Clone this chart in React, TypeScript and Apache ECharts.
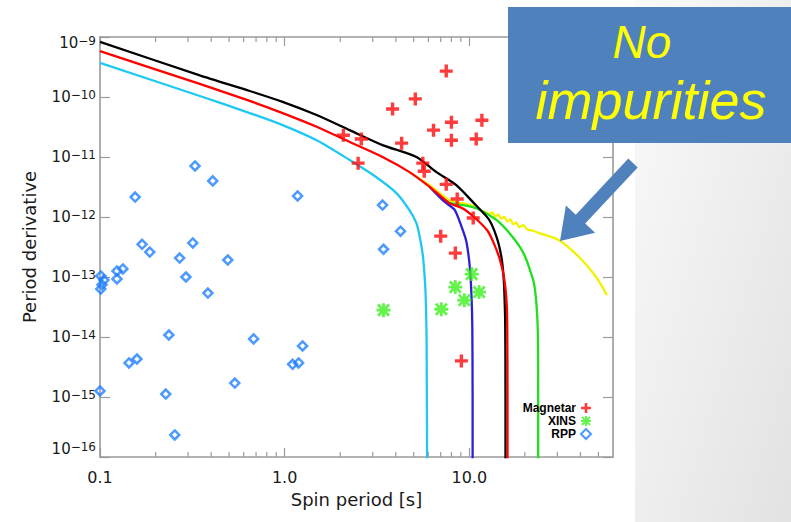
import { useEffect, useRef } from 'react';
import * as echarts from 'echarts';

// Spin-down tracks: [spin period (s), period derivative]
const blackTrack = [
  [0.1, 8.3e-10], [0.347, 2.3e-10], [0.647, 1.26e-10], [0.975, 8.3e-11], [1.49, 5.0e-11],
  [2.25, 2.8e-11], [3.39, 1.58e-11], [5.17, 1.0e-11], [6.64, 5.6e-12], [8.5, 3.4e-12],
  [10.9, 1.55e-12], [12.8, 9.0e-13], [14.1, 4.5e-13], [14.9, 2.2e-13], [15.3, 1.1e-13],
  [15.5, 5.0e-14], [15.65, 1.6e-14], [15.7, 1e-15], [15.7, 1e-17],
];
const redTrack = [
  [0.1, 5.8e-10], [0.347, 1.65e-10], [0.647, 8.6e-11], [0.975, 5.4e-11], [1.49, 3.2e-11],
  [2.25, 1.78e-11], [3.39, 1.0e-11], [4.74, 5.6e-12], [6.08, 3.2e-12], [7.15, 2.1e-12],
  [7.8, 1.7e-12], [9.17, 1.4e-12], [10.6, 1.0e-12], [12.5, 6.0e-13], [13.6, 3.6e-13],
  [14.6, 2.0e-13], [15.4, 1.0e-13], [15.9, 4.0e-14], [16.05, 1.5e-14], [16.1, 1e-15], [16.1, 1e-17],
];
const cyanTrack = [
  [0.1, 3.7e-10], [0.347, 1.04e-10], [0.647, 5.4e-11], [0.975, 3.4e-11], [1.49, 1.9e-11],
  [2.25, 8.9e-12], [3.14, 4.6e-12], [4.03, 2.5e-12], [4.74, 1.3e-12], [5.17, 7.9e-13],
  [5.4, 4.5e-13], [5.6, 2.3e-13], [5.72, 1.1e-13], [5.8, 5.0e-14], [5.87, 9e-15], [5.92, 1e-17],
];
const blueTrack = [
  [6.08, 3.2e-12], [6.9, 2.15e-12], [7.6, 1.65e-12], [8.35, 1.3e-12], [9.06, 7.0e-13],
  [9.64, 3.9e-13], [10.1, 1.3e-13], [10.3, 4.0e-14], [10.38, 1.5e-14], [10.42, 1e-15], [10.42, 1e-17],
];
const greenTrack = [
  [7.15, 2.1e-12], [7.8, 1.72e-12], [8.6, 1.62e-12], [9.64, 1.55e-12], [10.9, 1.4e-12],
  [12.0, 1.2e-12], [13.3, 1.0e-12], [14.5, 8.2e-13], [16.0, 6.0e-13], [17.5, 4.3e-13],
  [19.0, 3.0e-13], [20.3, 2.0e-13], [21.5, 1.2e-13], [22.4, 7.9e-14], [23.1, 3.5e-14],
  [23.5, 1.2e-14], [23.6, 1e-15], [23.6, 1e-17],
];
const yellowTrack = [
  [4.74, 5.6e-12], [6.08, 3.4e-12], [7.15, 2.3e-12], [7.8, 1.9e-12], [8.6, 1.75e-12],
  [9.17, 1.7e-12], [10.9, 1.47e-12], [11.75, 1.25e-12], [12.35, 1.19e-12], [12.82, 1.12e-12],
  [13.31, 1.2e-12], [13.82, 1.02e-12], [14.35, 1.1e-12], [14.89, 9.3e-13], [15.46, 1.0e-12],
  [16.05, 8.4e-13], [16.66, 9.1e-13], [17.29, 7.6e-13], [17.95, 8.1e-13], [18.63, 6.8e-13],
  [19.58, 7.3e-13], [20.58, 6.2e-13], [21.9, 5.96e-13], [23.9, 5.4e-13], [30.6, 4.1e-13],
  [39.3, 2.15e-13], [48.6, 1.0e-13], [55.7, 5.0e-14],
];

// Observed sources
const magnetars = [
  [7.5, 2.7e-10], [5.1, 9.3e-11], [3.84, 6.3e-11], [8.0, 3.8e-11], [11.7, 4.1e-11],
  [6.4, 2.8e-11], [8.0, 1.9e-11], [10.9, 2.0e-11], [4.3, 1.7e-11], [2.08, 2.3e-11],
  [2.6, 2.0e-11], [2.5, 7.9e-12], [5.6, 7.9e-12], [5.7, 5.8e-12], [7.5, 3.5e-12],
  [8.6, 2.0e-12], [10.5, 9.6e-13], [7.0, 4.8e-13], [8.4, 2.5e-13], [9.06, 4.0e-15],
];
const xins = [
  [3.43, 2.8e-14], [7.06, 2.9e-14], [8.4, 6.8e-14], [10.3, 1.12e-13], [9.4, 4.1e-14], [11.3, 5.6e-14],
];
const rpps = [
  [0.327, 7.1e-12], [0.408, 4.0e-12], [0.155, 2.15e-12], [1.175, 2.24e-12], [3.39, 1.58e-12],
  [4.24, 5.8e-13], [3.43, 2.9e-13], [0.169, 3.5e-13], [0.186, 2.6e-13], [0.318, 3.7e-13],
  [0.27, 2.07e-13], [0.492, 1.92e-13], [0.292, 1.0e-13], [0.384, 5.4e-14], [0.1236, 1.26e-13],
  [0.133, 1.36e-13], [0.1236, 9.3e-14], [0.101, 1.04e-13], [0.105, 8.9e-14], [0.1025, 7.4e-14],
  [0.101, 6.3e-14], [0.236, 1.08e-14], [0.679, 9.3e-15], [0.1436, 3.7e-15], [0.1585, 4.3e-15],
  [0.227, 1.12e-15], [0.537, 1.71e-15], [0.254, 2.33e-16], [1.104, 3.5e-15], [1.19, 3.7e-15],
  [1.25, 7.1e-15], [0.1, 1.26e-15],
];

const minorTicks = [0.2, 0.3, 0.4, 0.5, 0.6, 0.7, 0.8, 0.9, 2, 3, 4, 5, 6, 7, 8, 9, 20, 30, 40, 50];

const X_MIN = 0.1;
const X_MAX = 60;
const Y_MIN = 1e-16;
const Y_MAX = 1e-9;

const FONT = 'DejaVu Sans';
const TEXT = '#1a1a1a';
const AXIS = '#9a9a9a';
const CALLOUT = '#4f81bd';

const PLUS = 'path://M8.5,0H14.5V8.5H23V14.5H14.5V23H8.5V14.5H0V8.5H8.5Z';
const ASTERISK =
  'path://M8,0H12V20H8Z M0,8H20V12H0Z M0.59,3.41L3.41,0.59L19.41,16.59L16.59,19.41Z M16.59,0.59L19.41,3.41L3.41,19.41L0.59,16.59Z';

function trackSeries(data: number[][], color: string, z: number) {
  return {
    type: 'line',
    data,
    showSymbol: false,
    smooth: 0.25,
    clip: true,
    silent: true,
    z,
    lineStyle: { color, width: 2.3 },
  };
}

function frameAxis(position: string, isX: boolean) {
  return {
    type: 'log',
    logBase: 10,
    min: isX ? X_MIN : Y_MIN,
    max: isX ? X_MAX : Y_MAX,
    position,
    axisLine: { show: true, lineStyle: { color: AXIS, width: 1.6 } },
    axisTick: { show: true, inside: true, length: isX ? 9 : 10, lineStyle: { color: AXIS, width: 1.2 } },
    splitLine: { show: false },
    minorTick: { show: false },
    axisLabel: { show: false },
  } as any;
}

export default function App() {
  const ref = useRef<HTMLDivElement>(null);

  useEffect(() => {
    const chart = echarts.init(ref.current!, null, { renderer: 'svg' });

    const xMain = frameAxis('bottom', true);
    xMain.axisLabel = {
      show: true,
      margin: 12,
      fontSize: 16,
      color: TEXT,
      fontFamily: FONT,
      showMaxLabel: false,
      formatter: (v: number) => {
        const e = Math.log10(v);
        return Math.abs(e - Math.round(e)) < 1e-6 ? v.toFixed(1) : '';
      },
    };
    xMain.name = 'Spin period [s]';
    xMain.nameLocation = 'middle';
    xMain.nameGap = 33;
    xMain.nameTextStyle = { fontSize: 18, color: TEXT, fontFamily: FONT };

    const yMain = frameAxis('left', false);
    yMain.axisLabel = {
      show: true,
      margin: 4,
      color: TEXT,
      fontFamily: FONT,
      formatter: (v: number) => {
        const e = Math.round(Math.log10(v));
        const body = `{b|10}{s|${e < 0 ? '\u2212' : ''}${Math.abs(e)}}`;
        // the end labels sit just inside the frame
        if (e === -9) return `{g| }\n${body}`;
        if (e === -16) return `${body}\n{h| }`;
        return body;
      },
      rich: {
        b: { fontSize: 15, lineHeight: 16, color: TEXT, fontFamily: FONT },
        s: { fontSize: 12, lineHeight: 12, verticalAlign: 'top', color: TEXT, fontFamily: FONT },
        g: { fontSize: 8, lineHeight: 12 },
        h: { fontSize: 8, lineHeight: 16 },
      },
    };
    yMain.name = 'Period derivative';
    yMain.nameLocation = 'middle';
    yMain.nameRotate = 90;
    yMain.nameGap = 62;
    yMain.nameTextStyle = { fontSize: 18, color: TEXT, fontFamily: FONT };

    const option: any = {
      animation: false,
      backgroundColor: '#ffffff',
      grid: { left: 100, right: 178, top: 37, bottom: 65, containLabel: false, outerBoundsMode: 'none' },
      xAxis: [xMain, frameAxis('top', true)],
      yAxis: [yMain, frameAxis('right', false)],
      legend: {
        data: ['Magnetar', 'XINS', 'RPP'],
        orient: 'vertical',
        align: 'right',
        right: 194,
        top: 397,
        itemWidth: 10,
        itemHeight: 10,
        itemGap: 1,
        selectedMode: false,
        textStyle: { fontSize: 12, fontWeight: 'bold', color: '#000', fontFamily: 'Liberation Sans' },
      },
      series: [
        {
          type: 'custom',
          coordinateSystem: 'cartesian2d',
          silent: true,
          clip: false,
          z: 5,
          data: minorTicks.map((v) => [v, Y_MIN]),
          renderItem: (_params: any, api: any) => {
            const v = api.value(0);
            const b = api.coord([v, Y_MIN]);
            const t = api.coord([v, Y_MAX]);
            const st = { stroke: AXIS, lineWidth: 1.2 };
            return {
              type: 'group',
              children: [
                { type: 'line', shape: { x1: b[0], y1: b[1], x2: b[0], y2: b[1] - 5 }, style: st },
                { type: 'line', shape: { x1: t[0], y1: t[1], x2: t[0], y2: t[1] + 5 }, style: st },
              ],
            };
          },
        },
        trackSeries(yellowTrack, '#f2f200', 2),
        trackSeries(greenTrack, '#1fe01f', 2),
        trackSeries(blueTrack, '#2d1fd8', 2),
        trackSeries(cyanTrack, '#1ec8f2', 2),
        trackSeries(blackTrack, '#000000', 3),
        trackSeries(redTrack, '#ff0000', 3),
        {
          name: 'Magnetar',
          type: 'scatter',
          data: magnetars,
          symbol: PLUS,
          symbolSize: 13,
          z: 10,
          itemStyle: { color: '#ff0a0a' },
        },
        {
          name: 'XINS',
          type: 'scatter',
          data: xins,
          symbol: ASTERISK,
          symbolSize: 14,
          z: 10,
          itemStyle: { color: '#3cf01e' },
        },
        {
          name: 'RPP',
          type: 'scatter',
          data: rpps,
          symbol: 'diamond',
          symbolSize: 9,
          z: 10,
          itemStyle: { color: 'rgba(255,255,255,0)', borderColor: '#1f80ff', borderWidth: 2.5 },
        },
      ],
      graphic: [
        {
          type: 'rect',
          z: 0,
          silent: true,
          shape: { x: 635, y: 0, width: 156, height: 522 },
          style: {
            fill: new echarts.graphic.LinearGradient(0, 0, 1, 1, [
              { offset: 0, color: '#fafafa' },
              { offset: 1, color: '#e2e2e2' },
            ]),
          },
        },
        {
          type: 'rect',
          z: 100,
          silent: true,
          shape: { x: 508, y: 7, width: 283, height: 136 },
          style: { fill: CALLOUT },
        },
        {
          type: 'polygon',
          z: 100,
          silent: true,
          shape: {
            points: [
              [628.3, 158.6], [637.7, 167.4], [585.2, 223.5], [595.1, 232.8],
              [560, 241], [565.9, 205.4], [575.8, 214.7],
            ],
          },
          style: { fill: CALLOUT },
        },
        {
          type: 'text',
          z: 101,
          silent: true,
          x: 642,
          y: 42,
          style: {
            text: 'No',
            fill: '#ffff00',
            font: 'italic 46px "Liberation Sans"',
            align: 'center',
            verticalAlign: 'middle',
          },
        },
        {
          type: 'text',
          z: 101,
          silent: true,
          x: 651,
          y: 100,
          style: {
            text: 'impurities',
            fill: '#ffff00',
            font: 'italic 54px "Liberation Sans"',
            align: 'center',
            verticalAlign: 'middle',
          },
        },
      ],
    };

    chart.setOption(option);
    return () => chart.dispose();
  }, []);

  return (
    <div
      ref={ref}
      style={{ position: 'absolute', left: 0, top: 0, width: 791, height: 522, background: '#ffffff' }}
    />
  );
}
